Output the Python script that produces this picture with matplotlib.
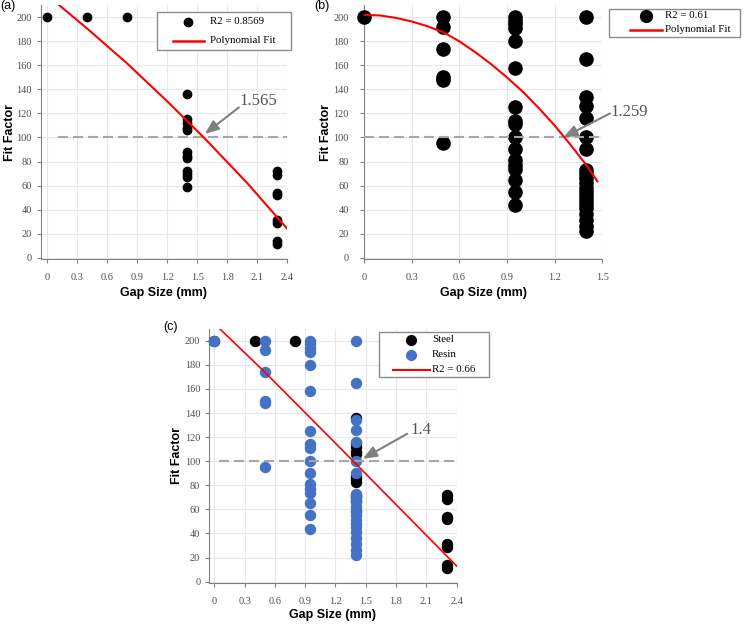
import matplotlib
matplotlib.use('Agg')
import numpy as np
import matplotlib.pyplot as plt
from matplotlib.lines import Line2D
from matplotlib.patches import Rectangle
from matplotlib.transforms import Affine2D
from matplotlib.ticker import FormatStrFormatter

plt.rcParams['font.family'] = 'Liberation Serif'

# acero (panel a)
steel_x = [0, 0.4, 0.8] + [1.4] * 12 + [2.3] * 8
steel_y = [200, 200, 200,
           136, 115, 112, 108, 106, 88, 85, 83, 72, 70, 67, 59,
           72, 69, 54, 52, 31, 29, 14, 11]

# resina (panel b)
resin_x = [0] + [0.5] * 6 + [0.95] * 17 + [1.4] * 21
resin_y = [200,
           200, 192, 174, 150, 148, 95,
           200, 197, 194, 191, 180, 158, 125, 114, 111, 100, 90, 81, 77, 74, 65, 55, 44,
           200, 165, 134, 126, 116, 100, 90, 73, 70, 66, 62, 58, 55, 51, 48, 45, 41,
           36, 31, 26, 22]

# curvas de ajuste
fit_a_x = [0.12, 0.4, 0.8, 1.2, 1.565, 2.0, 2.4]
fit_a_y = [210, 190.5, 161.5, 130, 100, 62, 24]
fit_b_x = [0, 0.1, 0.2, 0.3, 0.4, 0.5, 0.6, 0.7, 0.8, 0.9, 1.0, 1.1, 1.2, 1.3, 1.4, 1.47]
fit_b_y = [202, 201.5, 199.5, 196.5, 192.5, 187.5, 180, 171, 161, 150, 138, 124.5,
           110, 94, 77, 63.5]
fit_c_x = [0.04, 0.5, 1.4, 2.4]
fit_c_y = [211, 174, 98, 13]

r2_labels = ['R2 = 0.8569', 'R2 = 0.61', 'R2 = 0.66']
cross_labels = ['1.565', '1.259', '1.4']
threshold = 100

W, H = 748, 625
fig = plt.figure(figsize=(W / 100, H / 100), dpi=100)
px = Affine2D().scale(1 / W, -1 / H).translate(0, 1) + fig.transFigure

ax_a = fig.add_axes([0.0544, 0.5858, 0.3297, 0.4058])
ax_b = fig.add_axes([0.4868, 0.5858, 0.3183, 0.4058])
ax_c = fig.add_axes([0.2798, 0.0674, 0.3307, 0.4067])

gray = '#808080'


def estilo(ax, xlim, xticks, ylab_x, xlab_y, ypad=3.5):
    ax.set_xlim(xlim)
    ax.set_ylim(-1, 210)
    ax.set_xticks(xticks)
    ax.set_yticks(np.arange(0, 201, 20))
    ax.xaxis.set_major_formatter(FormatStrFormatter('%g'))
    ax.grid(True, color='#e8e8e8', lw=0.8)
    ax.set_axisbelow(True)
    for s in ['top', 'right']:
        ax.spines[s].set_visible(False)
    for s in ['left', 'bottom']:
        ax.spines[s].set_color(gray)
        ax.spines[s].set_linewidth(0.8)
    ax.tick_params(direction='out', length=3, width=0.8, color=gray,
                   labelcolor='#4d4d4d', labelsize=7.5)
    ax.tick_params(axis='x', pad=7.5)
    ax.tick_params(axis='y', pad=ypad)
    ax.set_xlabel('Gap Size (mm)', fontsize=9, fontweight='bold',
                  family='Liberation Sans', va='center')
    ax.set_ylabel('Fit Factor', fontsize=9, fontweight='bold',
                  family='Liberation Sans', va='center')
    ax.yaxis.set_label_coords(ylab_x, 0.5)
    ax.xaxis.set_label_coords(0.5, xlab_y)


def flecha(ax, tip, label, tail_off, text_off):
    ax.annotate('', xy=tip, xytext=tail_off, textcoords='offset points',
                arrowprops=dict(arrowstyle='-|>,head_length=0.7,head_width=0.28',
                                color=gray, lw=1.5, shrinkA=0, shrinkB=0,
                                mutation_scale=12), zorder=6)
    ax.annotate(label, xy=tip, xytext=text_off, textcoords='offset points',
                ha='left', va='center', fontsize=12, color='#555555')


def leyenda(box, hx, rows):
    l, t, r, b = box
    fig.add_artist(Rectangle((l, t), r - l, b - t, transform=px, fc='white',
                             ec='#8c8c8c', lw=1, zorder=10))
    n = len(rows)
    for i, (kind, color, size, label) in enumerate(rows):
        y = t + (b - t) * (i + 0.5) / n
        if kind == 'dot':
            fig.add_artist(Line2D([l + (hx[0] + hx[1]) / 2], [y], transform=px,
                                  marker='o', ms=size, color=color, ls='none',
                                  zorder=11))
        else:
            fig.add_artist(Line2D([l + hx[0], l + hx[1]], [y, y], transform=px,
                                  color=color, lw=size, zorder=11))
        fig.text(l + hx[2], y, label, transform=px, ha='left', va='center',
                 fontsize=7.8, zorder=12)


# (a)
estilo(ax_a, (-0.066, 2.4), np.arange(0, 2.41, 0.3), -0.1245, -0.1356)
ax_a.scatter(steel_x, steel_y, s=36, c='black', zorder=3, clip_on=False)
ax_a.hlines(threshold, 0.11, 2.4, colors='#a6a6a6', lw=1.5,
            linestyles=(0, (4.8, 2.4)), zorder=4)
ax_a.plot(fit_a_x, fit_a_y, color='red', lw=1.5, zorder=5)
flecha(ax_a, (1.575, 103), cross_labels[0], (24.5, 19), (25, 23.5))
leyenda((157, 12, 291, 50), (15.7, 47, 53),
        [('dot', 'black', 6, r2_labels[0]), ('line', 'red', 1.8, 'Polynomial Fit')])

# (b)
estilo(ax_b, (0, 1.5), np.arange(0, 1.51, 0.3), -0.16, -0.1356, ypad=8)
ax_b.scatter(resin_x, resin_y, s=90, c='black', zorder=3, clip_on=False)
ax_b.hlines(threshold, 0, 1.5, colors='#a6a6a6', lw=1.5,
            linestyles=(0, (4.8, 2.4)), zorder=4)
ax_b.plot(fit_b_x, fit_b_y, color='red', lw=1.5, zorder=5)
flecha(ax_b, (1.255, 100), cross_labels[1], (33.6, 17.3), (34, 18.4))
leyenda((609, 9, 740, 37), (21, 53, 56),
        [('dot', 'black', 8.5, r2_labels[1]), ('line', 'red', 1.8, 'Polynomial Fit')])

# (c)
estilo(ax_c, (-0.05, 2.4), np.arange(0, 2.41, 0.3), -0.1306, -0.126)
ax_c.scatter(steel_x, steel_y, s=52, c='black', zorder=3, clip_on=False)
ax_c.scatter(resin_x, resin_y, s=52, c='#4472c4', zorder=3, clip_on=False)
ax_c.hlines(threshold, 0.05, 2.4, colors='#a6a6a6', lw=1.5,
            linestyles=(0, (4.8, 2.4)), zorder=4)
ax_c.plot(fit_c_x, fit_c_y, color='red', lw=1.2, zorder=5)
flecha(ax_c, (1.47, 102), cross_labels[2], (32, 18), (34.6, 20.4))
leyenda((379, 332, 489, 377), (13.7, 51, 53),
        [('dot', 'black', 7, 'Steel'), ('dot', '#4472c4', 7, 'Resin'),
         ('line', 'red', 1.5, r2_labels[2])])

# etiquetas de panel
for txt, x, y in [('(a)', 0, 0), ('(b)', 314, 0), ('(c)', 163, 321)]:
    fig.text(x, y, txt, transform=px, ha='left', va='top', fontsize=9,
             family='Liberation Sans')

plt.savefig('out.png', dpi=100)
plt.close()
